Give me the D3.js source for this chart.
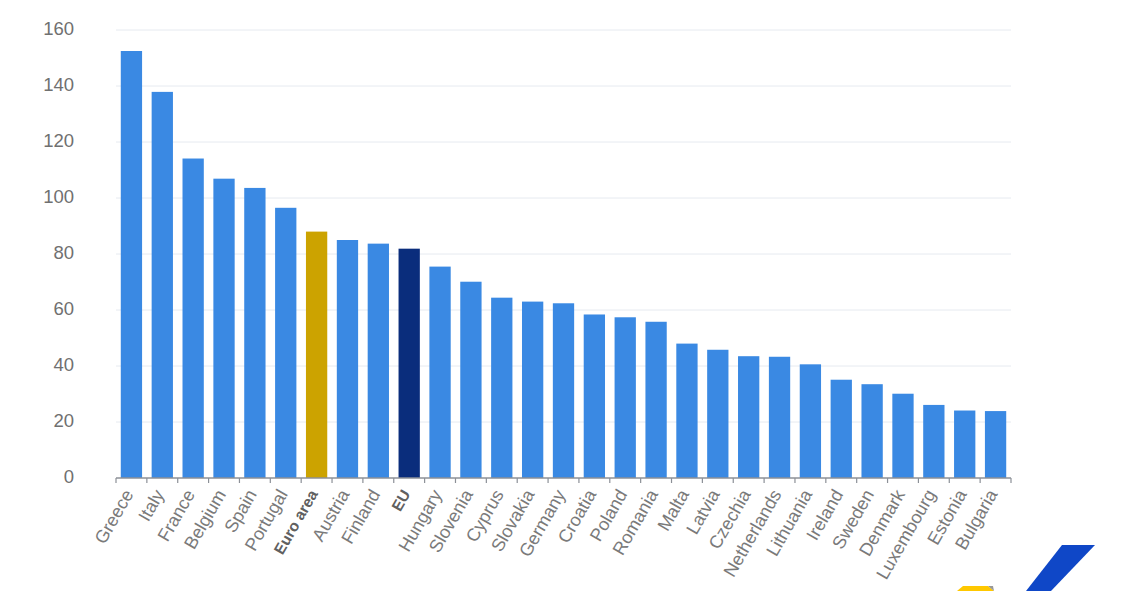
<!DOCTYPE html>
<html><head><meta charset="utf-8">
<script src="https://cdn.jsdelivr.net/npm/d3@7/dist/d3.min.js"></script>
<style>html,body{margin:0;padding:0;background:#fff;overflow:hidden}svg{display:block;font-family:"Liberation Sans",Arial,sans-serif}</style>
</head><body><svg id="c" width="1128" height="591"></svg>
<script>
const categories = ["Greece","Italy","France","Belgium","Spain","Portugal","Euro area","Austria","Finland","EU","Hungary","Slovenia","Cyprus","Slovakia","Germany","Croatia","Poland","Romania","Malta","Latvia","Czechia","Netherlands","Lithuania","Ireland","Sweden","Denmark","Luxembourg","Estonia","Bulgaria"];
const values = [152.5,137.9,114.1,106.9,103.6,96.5,88,85,83.7,81.9,75.5,70.1,64.4,63,62.4,58.4,57.4,55.8,48,45.8,43.5,43.3,40.6,35.1,33.5,30.1,26.1,24.1,23.9];
const yTicks = [0,20,40,60,80,100,120,140,160];
const highlight = {"Euro area":"#cca300","EU":"#0a2d7c"};
const svg = d3.select("#c");
const x = d3.scaleBand().domain(categories).range([116,1011]).paddingInner(0.31).paddingOuter(0.155);
const y = d3.scaleLinear().domain([0,160]).range([478,30]);
const grid = svg.append("g");
yTicks.filter(d=>d>0).forEach(t=>grid.append("line").attr("x1",116).attr("x2",1011).attr("y1",y(t)).attr("y2",y(t)).attr("stroke","#e6eaf0").attr("stroke-width",1));
const yAxis = svg.append("g");
yTicks.forEach(t=>yAxis.append("text").attr("x",74).attr("y",y(t)-1).attr("dy","0.35em").attr("text-anchor","end").attr("font-size",18.5).attr("fill","#707070").text(t));
svg.append("g").selectAll("rect").data(categories).join("rect")
  .attr("x",d=>x(d)).attr("width",x.bandwidth())
  .attr("y",(d,i)=>y(values[i])).attr("height",(d,i)=>y(0)-y(values[i]))
  .attr("fill",d=>highlight[d]||"#3a89e3");
const ax = svg.append("g").attr("transform","translate(0,478)");
ax.append("line").attr("x1",116).attr("x2",1011).attr("stroke","#8c9097").attr("stroke-width",1.5);
const step = x.step();
d3.range(categories.length+1).forEach(i=>ax.append("line").attr("x1",116+i*step).attr("x2",116+i*step).attr("y1",0).attr("y2",5).attr("stroke","#8c9097").attr("stroke-width",1.2));
ax.selectAll("text").data(categories).join("text")
  .attr("transform",d=>`translate(${x(d)+x.bandwidth()/2-3},13) rotate(-60)`)
  .attr("text-anchor","end").attr("dy","0.35em")
  .attr("fill",d=>highlight[d]?"#606060":"#7a7a7a")
  .attr("font-weight",d=>highlight[d]?"bold":"normal")
  .attr("font-size",d=>highlight[d]?15.5:18)
  .text(d=>d);
// logo fragment at lower right
svg.append("path").attr("d","M1062 545H1095L1051 591H1026Z").attr("fill","#0f47c7");
svg.append("path").attr("d","M963 586H988L994 591H957Z").attr("fill","#ffc800");
svg.append("path").attr("d","M988 586L993 586L994 591Z").attr("fill","#999");
</script></body></html>
